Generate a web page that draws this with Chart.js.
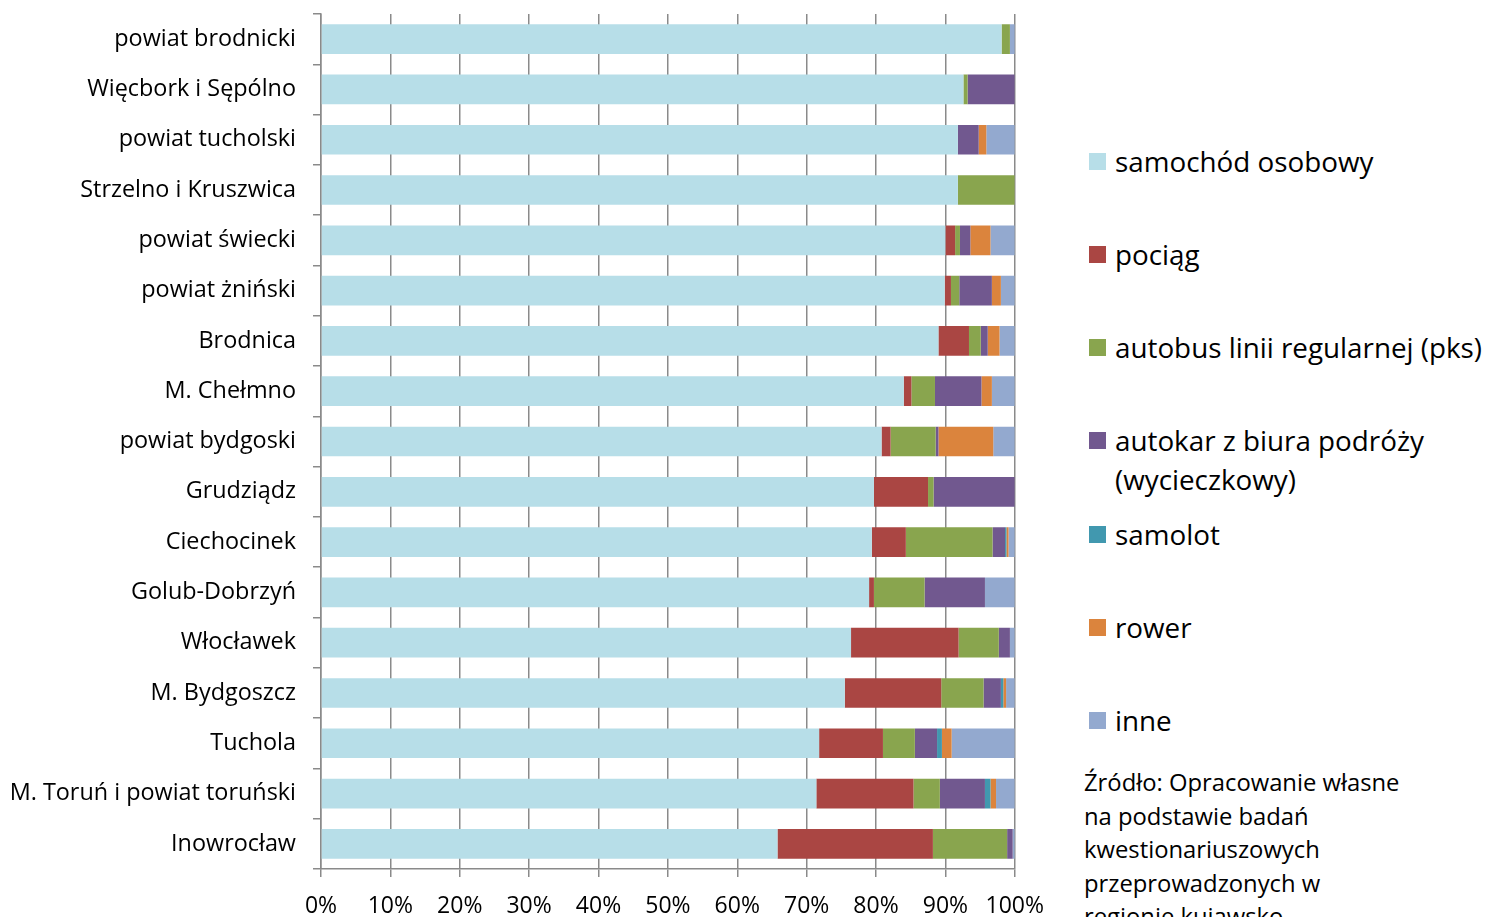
<!DOCTYPE html>
<html lang="pl">
<head>
<meta charset="utf-8">
<title>Środek transportu wg miejsca zamieszkania</title>
<script src="https://cdn.jsdelivr.net/npm/chart.js@4.4.1/dist/chart.umd.min.js"></script>
<style>
  html, body { margin: 0; padding: 0; background: #fff; overflow: hidden; }
  body { width: 1487px; height: 917px; position: relative; font-family: "Open Sans", sans-serif; color: #000; }
  #chart-box { position: absolute; left: 0; top: 0; width: 1060px; height: 917px; }
  #legend { position: absolute; left: 1089px; top: 141.5px; }
  .lg-item { display: flex; align-items: flex-start; height: 93.3px; }
  .lg-swatch { width: 17px; height: 17px; margin-top: 11px; margin-right: 9px; flex: none; }
  .lg-text { font-size: 27.8px; line-height: 39px; white-space: pre; }
  #source { position: absolute; left: 1084px; top: 766px; font-size: 23.8px; line-height: 33.5px; white-space: pre; }
</style>
</head>
<body>
<div id="chart-box"><canvas id="transport-canvas"></canvas></div>
<div id="legend"></div>
<div id="source"></div>
<script>
/* 100% stacked horizontal bars: share of each means of transport per area. */
(function () {
  "use strict";

  var CATEGORIES = [
    "powiat brodnicki", "Więcbork i Sępólno", "powiat tucholski",
    "Strzelno i Kruszwica", "powiat świecki", "powiat żniński", "Brodnica",
    "M. Chełmno", "powiat bydgoski", "Grudziądz", "Ciechocinek",
    "Golub-Dobrzyń", "Włocławek", "M. Bydgoszcz", "Tuchola",
    "M. Toruń i powiat toruński", "Inowrocław"
  ];

  var SERIES_NAMES = [
    "samochód osobowy", "pociąg", "autobus linii regularnej (pks)",
    "autokar z biura podróży\n(wycieczkowy)", "samolot", "rower", "inne"
  ];
  var SERIES_COLORS = ["#B7DEE8", "#AA4643", "#89A54E", "#71588F", "#4198AF", "#DB843D", "#93A9CF"];

  // values in %, one entry per category (same order as CATEGORIES)
  var SAMOCHOD = [98.1, 92.6, 91.8, 91.8, 90.0, 89.9, 89.0, 84.0, 80.8, 79.7, 79.4, 79.0, 76.4, 75.5, 71.8, 71.4, 65.8];
  var POCIAG   = [0, 0, 0, 0, 1.4, 0.9, 4.4, 1.1, 1.3, 7.8, 4.9, 0.7, 15.5, 13.9, 9.2, 14.0, 22.4];
  var AUTOBUS  = [1.2, 0.6, 0, 8.2, 0.7, 1.2, 1.7, 3.4, 6.5, 0.8, 12.5, 7.3, 5.8, 6.1, 4.6, 3.8, 10.7];
  var AUTOKAR  = [0, 6.8, 3.0, 0, 1.5, 4.7, 1.0, 6.7, 0.4, 11.7, 1.8, 8.7, 1.6, 2.5, 3.2, 6.5, 0.8];
  var SAMOLOT  = [0, 0, 0, 0, 0, 0, 0, 0, 0, 0, 0.2, 0, 0, 0.35, 0.7, 0.8, 0];
  var ROWER    = [0, 0, 1.1, 0, 2.9, 1.3, 1.7, 1.5, 7.9, 0, 0.3, 0, 0, 0.4, 1.4, 0.8, 0];
  var INNE     = [0.7, 0, 4.1, 0, 3.5, 2.0, 2.2, 3.3, 3.1, 0, 0.9, 4.3, 0.7, 1.25, 9.1, 2.7, 0.3];

  var X_TICKS = [0, 10, 20, 30, 40, 50, 60, 70, 80, 90, 100];

  var SOURCE_LINES = [
    "Źródło: Opracowanie własne",
    "na podstawie badań",
    "kwestionariuszowych",
    "przeprowadzonych w",
    "regionie kujawsko-",
    "pomorskim"
  ];

  var SERIES_VALUES = [SAMOCHOD, POCIAG, AUTOBUS, AUTOKAR, SAMOLOT, ROWER, INNE];
  var GRID = "#8a8a8a";
  var FONT = "'Open Sans', sans-serif";

  function buildLegend() {
    var box = document.getElementById("legend");
    SERIES_NAMES.forEach(function (name, i) {
      var item = document.createElement("div");
      item.className = "lg-item";
      var sw = document.createElement("span");
      sw.className = "lg-swatch";
      sw.style.background = SERIES_COLORS[i];
      var tx = document.createElement("span");
      tx.className = "lg-text";
      tx.textContent = name;
      item.appendChild(sw);
      item.appendChild(tx);
      box.appendChild(item);
    });
    document.getElementById("source").textContent = SOURCE_LINES.join("\n");
  }

  function render() {
    var datasets = SERIES_VALUES.map(function (vals, i) {
      return {
        label: SERIES_NAMES[i].replace("\n", " "),
        data: vals,
        backgroundColor: SERIES_COLORS[i],
        borderWidth: 0,
        categoryPercentage: 1,
        barPercentage: 0.59
      };
    });

    new Chart(document.getElementById("transport-canvas").getContext("2d"), {
      type: "bar",
      data: { labels: CATEGORIES, datasets: datasets },
      options: {
        indexAxis: "y",
        responsive: true,
        maintainAspectRatio: false,
        animation: false,
        layout: { padding: { top: 14, right: 45, left: 0, bottom: 0 } },
        plugins: {
          legend: { display: false },
          tooltip: { enabled: false }
        },
        scales: {
          x: {
            stacked: true,
            min: 0,
            max: 100,
            afterBuildTicks: function (s) {
              s.ticks = X_TICKS.map(function (v) { return { value: v }; });
            },
            afterFit: function (s) { s.height = 48; },
            ticks: {
              color: "#000",
              font: { family: FONT, size: 23 },
              padding: 16,
              maxRotation: 0,
              callback: function (v) { return v + "%"; }
            },
            grid: { color: GRID, lineWidth: 1.5, tickLength: 8, drawOnChartArea: true },
            border: { color: GRID, width: 1.5 }
          },
          y: {
            stacked: true,
            afterFit: function (s) {
              s.width = 321;
              s.paddingTop = 0;
              s.paddingBottom = 0;
            },
            ticks: {
              color: "#000",
              font: { family: FONT, size: 23.4 },
              padding: 17,
              autoSkip: false
            },
            grid: { color: GRID, lineWidth: 1.5, tickLength: 8, drawOnChartArea: false, offset: true },
            border: { color: GRID, width: 1.5 }
          }
        }
      }
    });
  }

  buildLegend();
  render();
})();
</script>
</body>
</html>
